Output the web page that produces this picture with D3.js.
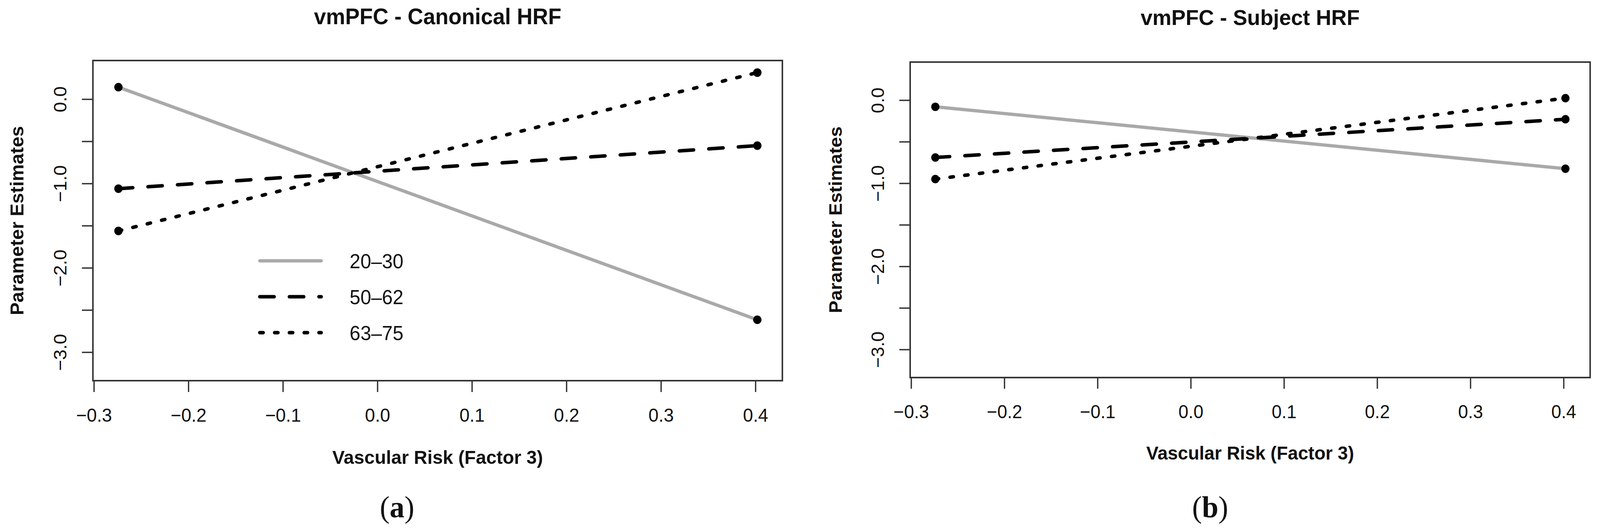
<!DOCTYPE html>
<html>
<head>
<meta charset="utf-8">
<script src="https://cdn.jsdelivr.net/npm/d3@7/dist/d3.min.js"></script>
<style>
  html, body { margin: 0; padding: 0; background: #fff; overflow: hidden; }
  svg { display: block; }
  text { font-family: "Liberation Sans", Arial, Helvetica, sans-serif; fill: #111; }
</style>
</head>
<body>
<div id="chart"></div>
<script>
// values
var xVals = [-0.274, 0.402];
var ageGroups = ["20–30", "50–62", "63–75"];
var canonicalVals = [[0.142, -2.616], [-1.062, -0.551], [-1.563, 0.315]];
var subjectVals = [[-0.08, -0.825], [-0.69, -0.23], [-0.95, 0.024]];
var xTicks = [-0.3, -0.2, -0.1, 0.0, 0.1, 0.2, 0.3, 0.4];
var yTicks = [0, -0.5, -1, -1.5, -2, -2.5, -3];
var yLabelTicks = [0, -1, -2, -3];
var panelTitles = ["vmPFC - Canonical HRF", "vmPFC - Subject HRF"];
var panelTags = ["a", "b"];

var W = 4219, H = 1360;
// window comes out narrower than asked, so stretch the drawing to fill it
var svg = d3.select("#chart").append("svg")
    .attr("viewBox", "0 0 " + W + " " + H)
    .attr("preserveAspectRatio", "none")
    .style("width", "100vw")
    .style("height", "100vh");

// line look per age group
var styles = [
  {stroke: "#a9a9a9", width: 8.5, dash: null},
  {stroke: "#000", width: 9, dash: "38 40"},
  {stroke: "#000", width: 9, dash: "9 30"}
];

var panels = [
  {box: {x0: 245, x1: 2063, y0: 155, y1: 975}, vals: canonicalVals, titleY: 62, legend: true},
  {box: {x0: 2400, x1: 4193, y0: 159, y1: 967}, vals: subjectVals, titleY: 64, legend: false}
];

var fmt = d3.format(".1f");

panels.forEach(function(p, pi){
    var b = p.box;
    var k = (b.x1 - b.x0) / 1818;   // right panel is a touch smaller
    var cx = (b.x0 + b.x1) / 2, cy = (b.y0 + b.y1) / 2;

    var x = d3.scaleLinear().domain([-0.301, 0.4285]).range([b.x0, b.x1]);
    var y = d3.scaleLinear().domain([-3.338, 0.458]).range([b.y1, b.y0]);

    var g = svg.append("g");

    // x axis
    var xa = g.append("g")
        .attr("transform", "translate(0," + b.y1 + ")")
        .call(d3.axisBottom(x).tickValues(xTicks).tickSize(29 * k).tickFormat(fmt));
    xa.select(".domain").remove();
    xa.selectAll(".tick line").attr("stroke", "#333").attr("stroke-width", 3.5);
    xa.selectAll(".tick text")
        .attr("y", 105 * k).attr("dy", 0)
        .style("font-size", (48 * k) + "px")
        .attr("fill", "#111");

    // y axis, rotated labels on whole numbers only
    var ya = g.append("g")
        .attr("transform", "translate(" + b.x0 + ",0)")
        .call(d3.axisLeft(y).tickValues(yTicks).tickSize(29 * k)
            .tickFormat(function(d){ return yLabelTicks.indexOf(d) >= 0 ? fmt(d) : ""; }));
    ya.select(".domain").remove();
    ya.selectAll(".tick line").attr("stroke", "#333").attr("stroke-width", 3.5);
    ya.selectAll(".tick text")
        .attr("transform", "rotate(-90)")
        .attr("x", 0).attr("y", -70 * k).attr("dy", 0)
        .attr("text-anchor", "middle")
        .style("font-size", (48 * k) + "px")
        .attr("fill", "#111");

    // plot box
    g.append("rect")
        .attr("x", b.x0).attr("y", b.y0)
        .attr("width", b.x1 - b.x0).attr("height", b.y1 - b.y0)
        .attr("fill", "none").attr("stroke", "#333").attr("stroke-width", 4);

    // lines
    var line = d3.line()
        .x(function(d, i){ return x(xVals[i]); })
        .y(function(d){ return y(d); });

    g.selectAll("path.series")
        .data(p.vals)
        .enter()
        .append("path")
        .attr("class", "series")
        .attr("d", line)
        .attr("fill", "none")
        .attr("stroke", function(d, i){ return styles[i].stroke; })
        .attr("stroke-width", function(d, i){ return styles[i].width; })
        .attr("stroke-linecap", "round")
        .attr("stroke-dasharray", function(d, i){ return styles[i].dash; });

    // end points
    p.vals.forEach(function(s){
        g.selectAll(null)
            .data(s)
            .enter()
            .append("circle")
            .attr("cx", function(d, i){ return x(xVals[i]); })
            .attr("cy", function(d){ return y(d); })
            .attr("r", 11 * k)
            .attr("fill", "#000");
    });

    // titles
    g.append("text")
        .attr("x", cx).attr("y", p.titleY)
        .attr("text-anchor", "middle")
        .style("font-size", (57 * k) + "px").style("font-weight", "bold")
        .text(panelTitles[pi]);

    g.append("text")
        .attr("x", cx).attr("y", b.y1 + 213 * k)
        .attr("text-anchor", "middle")
        .style("font-size", (49 * k) + "px").style("font-weight", "bold")
        .text("Vascular Risk (Factor 3)");

    g.append("text")
        .attr("transform", "translate(" + (b.x0 - 183 * k) + "," + cy + ") rotate(-90)")
        .attr("text-anchor", "middle")
        .style("font-size", (49 * k) + "px").style("font-weight", "bold")
        .text("Parameter Estimates");

    // (a) / (b)
    var tag = g.append("text")
        .attr("x", cx - 107 * k).attr("y", 1325)
        .attr("text-anchor", "middle")
        .style("font-family", "'Liberation Serif', 'Times New Roman', serif")
        .style("font-size", "78px");
    tag.append("tspan").text("(");
    tag.append("tspan").style("font-weight", "bold").text(panelTags[pi]);
    tag.append("tspan").text(")");

    if(p.legend){
        var lx0 = b.x0 + 440, lx1 = b.x0 + 602;
        var rows = [668, 760, 852];
        ageGroups.forEach(function(name, i){
            g.append("line")
                .attr("x1", lx0).attr("x2", lx1)
                .attr("y1", rows[i]).attr("y2", rows[i])
                .attr("stroke", styles[i].stroke)
                .attr("stroke-width", styles[i].width)
                .attr("stroke-linecap", "round")
                .attr("stroke-dasharray", styles[i].dash);
            g.append("text")
                .attr("x", b.x0 + 677).attr("y", rows[i] + 19)
                .style("font-size", "51px")
                .text(name);
        });
    }
});
</script>
</body>
</html>
